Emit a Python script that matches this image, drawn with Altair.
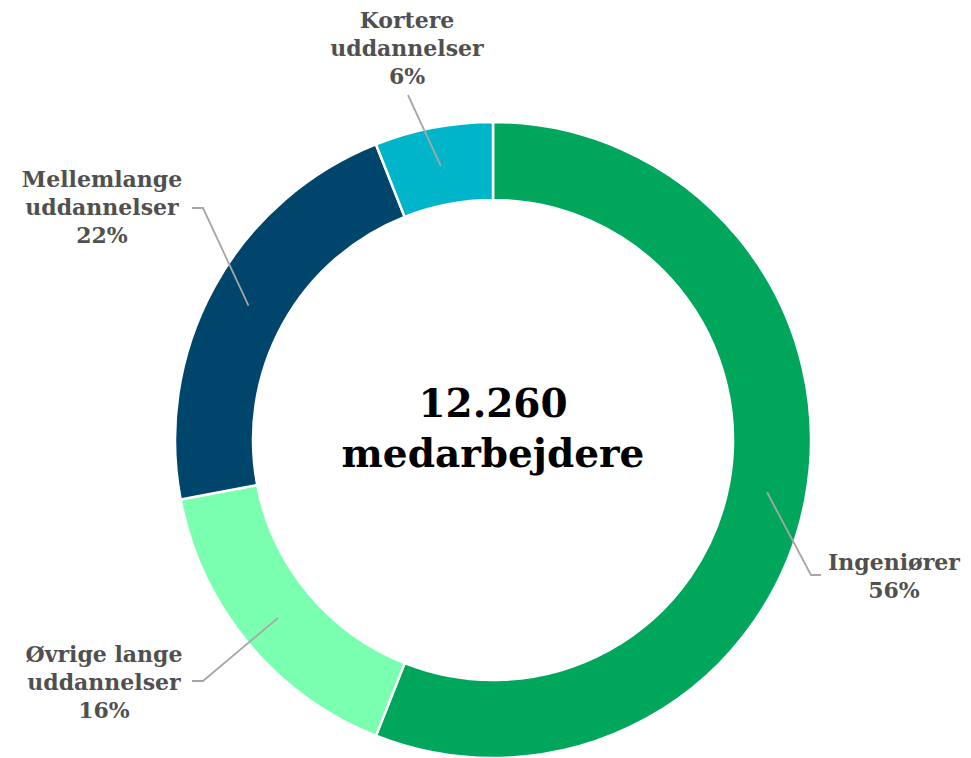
import altair as alt
import numpy as np
import pandas as pd

# ---- data ----
categories = ["Ingeniører", "Øvrige lange uddannelser", "Mellemlange uddannelser", "Kortere uddannelser"]
label_lines = ["Ingeniører", "Øvrige lange\nuddannelser", "Mellemlange\nuddannelser", "Kortere\nuddannelser"]
shares = [56, 16, 22, 6]
colors = ["#00A65B", "#7AFFB1", "#00456B", "#00B4CA"]
center_lines = ["12.260", "medarbejdere"]

# ---- layout (pixels) ----
W, H = 955, 750
CX, CY = 485, 432           # donut centre inside the plot area
R_OUT, R_IN = 318, 240
R_LEADER = 279
# per category: elbow of leader line, end of leader line, label centre x, first baseline y (offsets from centre)
elbow = [(318, 135), (-290, 241), (-290, -232), (-85, -345)]
lend = [(328, 135), (-301, 241), (-301, -232), (-85, -345)]
label_xy = [(401, 130), (-389, 222), (-391, -253), (-86, -412)]
center_baselines = [-23, 27]

xs = alt.Scale(domain=[-CX, W - CX], range=[0, W], nice=False, zero=False)
ys = alt.Scale(domain=[-CY, H - CY], range=[0, H], nice=False, zero=False)

df = pd.DataFrame({"cat": categories, "share": shares, "idx": range(len(categories))})
df["label"] = [f"{l}\n{s}%" for l, s in zip(label_lines, shares)]
df["lx"] = [p[0] for p in label_xy]
df["ly"] = [p[1] for p in label_xy]

cum = np.cumsum(shares)
mid = (cum - np.array(shares) / 2) / sum(shares) * 2 * np.pi
rows = []
for i, c in enumerate(categories):
    sx, sy = R_LEADER * np.sin(mid[i]), -R_LEADER * np.cos(mid[i])
    for k, (x, y) in enumerate([(sx, sy), elbow[i], lend[i]]):
        rows.append({"cat": c, "k": k, "x": x, "y": y})
lead = pd.DataFrame(rows)

cdf = pd.DataFrame({"t": center_lines, "x": [0, 0], "y": center_baselines})

arc = alt.Chart(df).mark_arc(innerRadius=R_IN, outerRadius=R_OUT, stroke="white", strokeWidth=2.5).encode(
    theta=alt.Theta("share:Q", stack=True),
    color=alt.Color("cat:N", scale=alt.Scale(domain=categories, range=colors), legend=None),
    order=alt.Order("idx:Q"),
    x=alt.value(CX),
    y=alt.value(CY),
)

lines = alt.Chart(lead).mark_line(color="#A6A6A6", strokeWidth=1.8).encode(
    x=alt.X("x:Q", scale=xs, axis=None),
    y=alt.Y("y:Q", scale=ys, axis=None),
    detail="cat:N",
    order="k:Q",
)

labels = alt.Chart(df).mark_text(
    font="DejaVu Serif", fontWeight="bold", fontSize=22, color="#505050",
    align="center", baseline="alphabetic", lineBreak="\n", lineHeight=28,
).encode(
    x=alt.X("lx:Q", scale=xs, axis=None),
    y=alt.Y("ly:Q", scale=ys, axis=None),
    text="label:N",
)

center = alt.Chart(cdf).mark_text(
    font="DejaVu Serif", fontWeight="bold", fontSize=39, color="#000000",
    align="center", baseline="alphabetic",
).encode(
    x=alt.X("x:Q", scale=xs, axis=None),
    y=alt.Y("y:Q", scale=ys, axis=None),
    text="t:N",
)

chart = alt.layer(arc, lines, labels, center).properties(
    width=W, height=H, padding=0, autosize=alt.AutoSizeParams(type="none"),
).configure_view(stroke=None)

chart.save("out.html", embed_options={"renderer": "svg", "actions": False})
